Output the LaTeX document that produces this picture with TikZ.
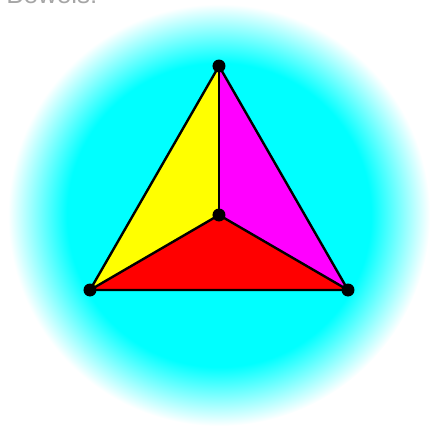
\documentclass[tikz,border=0pt]{standalone}
\usepackage{fontspec}
\setmainfont{Liberation Sans}
\definecolor{haloCyan}{RGB}{0,255,255}
\definecolor{faceYellow}{RGB}{255,255,0}
\definecolor{faceMagenta}{RGB}{255,0,255}
\definecolor{faceRed}{RGB}{255,0,0}
\pgfdeclareradialshading{halo}{\pgfpoint{0bp}{0bp}}{color(0bp)=(haloCyan); color(18bp)=(haloCyan); color(25bp)=(white); color(50bp)=(white)}
\begin{document}
\begin{tikzpicture}[x=0.5pt,y=-0.5pt,
    edge/.style={draw=black,line width=1.2pt,line join=round},
    vertex/.style={circle,fill=black,inner sep=0pt,minimum size=6.5pt}]
    \useasboundingbox (0,0) rectangle (430,429);
    \clip (0,0) rectangle (430,429);
    \shade[shading=halo] (219,215) circle (211);
    \node[anchor=base west,text=gray!70,font=\fontsize{13pt}{13pt}\selectfont,inner sep=0pt] (title) at (6,3) {Beweis:};
    \coordinate (a) at (219,66);
    \coordinate (b) at (90,290);
    \coordinate (c) at (348,290);
    \coordinate (m) at (219,215);
    \fill[faceYellow]  (a)--(b)--(m)--cycle;
    \fill[faceMagenta] (a)--(m)--(c)--cycle;
    \fill[faceRed]     (b)--(c)--(m)--cycle;
    \draw[edge] (a)--(b)--(c)--cycle;
    \draw[edge] (a)--(m);
    \draw[edge] (b)--(m);
    \draw[edge] (c)--(m);
    \node[vertex] (va) at (a) {};
    \node[vertex] (vb) at (b) {};
    \node[vertex] (vc) at (c) {};
    \node[vertex] (vm) at (m) {};
\end{tikzpicture}
\end{document}
